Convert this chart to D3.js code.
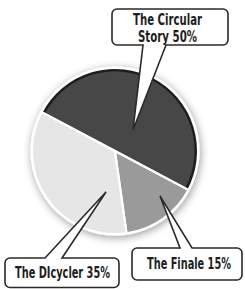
<!DOCTYPE html>
<html><head><meta charset="utf-8">
<script src="https://cdn.jsdelivr.net/npm/d3@7"></script>
<style>html,body{margin:0;padding:0;background:#fff;}svg{display:block;}</style>
</head><body>
<script>
const categories = ["The Circular Story", "The Finale", "The DIcycler"];
const values = [50, 15, 35];
const colors = ["#474747", "#9a9a9a", "#e6e6e6"];
const labelLines = [["The Circular", "Story 50%"], ["The Finale 15%"], ["The DIcycler 35%"]];

const W = 245, H = 289;
const cx = 115, cy = 151, R = 83;
const startAngle = -62 * Math.PI / 180;

const svg = d3.select("body").append("svg").attr("width", W).attr("height", H);
const defs = svg.append("defs");
const f = defs.append("filter").attr("id", "sh").attr("x", "-30%").attr("y", "-30%").attr("width", "160%").attr("height", "160%");
f.append("feGaussianBlur").attr("in", "SourceAlpha").attr("stdDeviation", 4).attr("result", "b");
f.append("feOffset").attr("in", "b").attr("dx", 1).attr("dy", 2).attr("result", "o");
f.append("feComponentTransfer").attr("in", "o").attr("result", "o2")
  .append("feFuncA").attr("type", "linear").attr("slope", 0.4);
const fm = f.append("feMerge");
fm.append("feMergeNode").attr("in", "o2");
fm.append("feMergeNode").attr("in", "SourceGraphic");

const pie = d3.pie().sort(null).value(d => d).startAngle(startAngle).endAngle(startAngle + 2 * Math.PI);
const arcs = pie(values);
const arc = d3.arc().innerRadius(0).outerRadius(R);
const g = svg.append("g").attr("transform", `translate(${cx},${cy})`);

g.append("circle").attr("r", R + 1.5).attr("fill", "#fff").attr("filter", "url(#sh)");
g.selectAll("path.slice").data(arcs).enter().append("path").attr("class", "slice")
  .attr("d", arc).attr("fill", (d, i) => colors[i]);
const rim = d3.arc().innerRadius(R - 3.5).outerRadius(R);
g.append("path").attr("d", rim(arcs[0])).attr("fill", "#1c1c1c");
g.selectAll("path.sep").data(arcs).enter().append("path").attr("class", "sep")
  .attr("d", d => arc(d)).attr("fill", "none").attr("stroke", "#fff").attr("stroke-width", 2).attr("stroke-linejoin", "round");

function callout(x, y, w, h, r, side, t1, t2, px, py) {
  const p = d3.path();
  const x2 = x + w, y2 = y + h;
  p.moveTo(x + r, y);
  if (side === "top") { p.lineTo(t1, y); p.lineTo(px, py); p.lineTo(t2, y); }
  p.lineTo(x2 - r, y); p.arcTo(x2, y, x2, y + r, r);
  p.lineTo(x2, y2 - r); p.arcTo(x2, y2, x2 - r, y2, r);
  if (side === "bottom") { p.lineTo(t2, y2); p.lineTo(px, py); p.lineTo(t1, y2); }
  p.lineTo(x + r, y2); p.arcTo(x, y2, x, y2 - r, r);
  p.lineTo(x, y + r); p.arcTo(x, y, x + r, y, r);
  p.closePath();
  return p.toString();
}
const boxes = [
  {x: 112, y: 9, w: 116, h: 36, side: "bottom", t1: 143, t2: 166, px: 133, py: 130, tx: 167.5, ty: [25, 42], tw: [69, 59]},
  {x: 132, y: 248, w: 110, h: 32, side: "top", t1: 180, t2: 192, px: 160, py: 196, tx: 189, ty: [269], tw: [84]},
  {x: 5, y: 258, w: 114, h: 29.5, side: "top", t1: 45, t2: 62, px: 106, py: 192, tx: 62.5, ty: [278], tw: [95]}
];
const cg = svg.append("g");
boxes.forEach((b, i) => {
  cg.append("path").attr("d", callout(b.x, b.y, b.w, b.h, 5, b.side, b.t1, b.t2, b.px, b.py))
    .attr("fill", "#fff").attr("stroke", "#2a2a2a").attr("stroke-width", 1.6).attr("stroke-linejoin", "miter");
  labelLines[i].forEach((t, j) => {
    cg.append("text").attr("x", b.tx).attr("y", b.ty[j]).attr("text-anchor", "middle")
      .attr("font-family", "'DejaVu Sans Condensed', 'DejaVu Sans', sans-serif")
      .attr("font-weight", "bold").attr("font-size", 15)
      .attr("textLength", b.tw[j]).attr("lengthAdjust", "spacingAndGlyphs")
      .attr("fill", "#1e1e1e").text(t);
  });
});
</script>
</body></html>
